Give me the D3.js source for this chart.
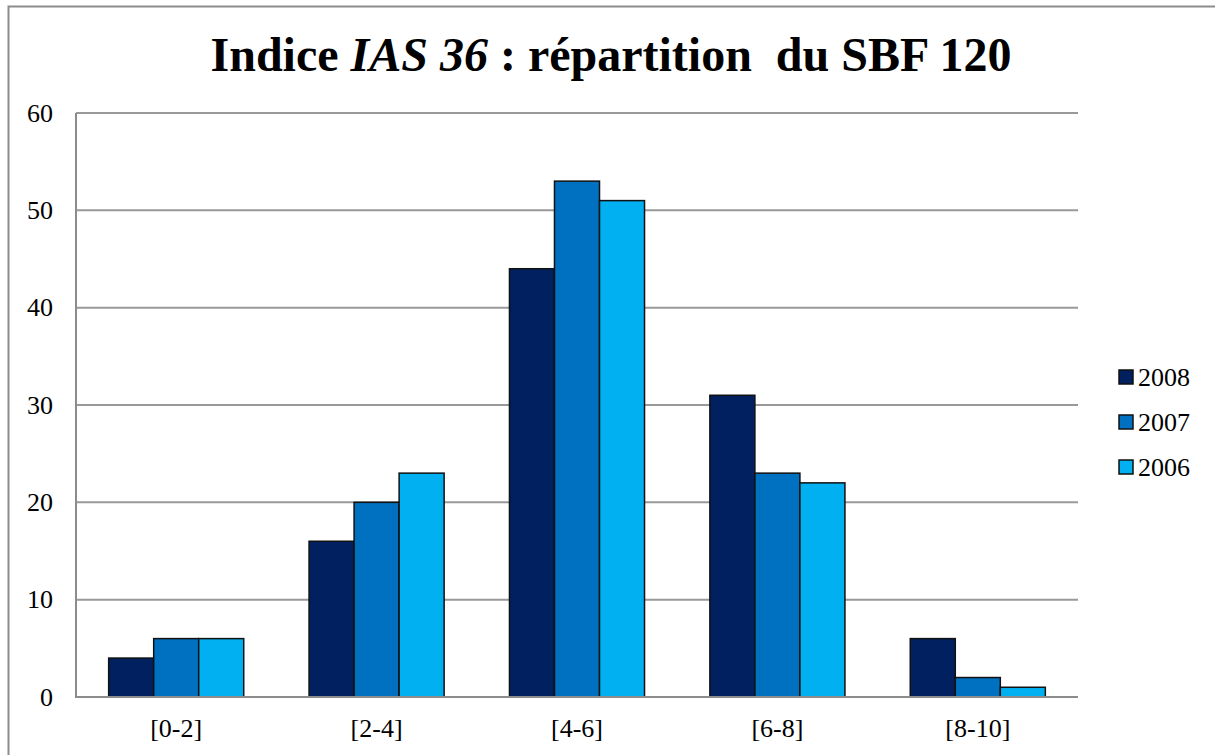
<html>
<head>
<meta charset="utf-8">
</head>
<body style="margin:0">
<div id="chart"></div>
<script src="https://d3js.org/d3.v7.min.js"></script>
<script>
// data
var categories = ["[0-2]", "[2-4]", "[4-6]", "[6-8]", "[8-10]"];
var seriesNames = ["2008", "2007", "2006"];
var values2008 = [4, 16, 44, 31, 6];
var values2007 = [6, 20, 53, 23, 2];
var values2006 = [6, 23, 51, 22, 1];
var yTicks = [0, 10, 20, 30, 40, 50, 60];
var colors = ["#002060", "#0070C0", "#00B0F0"];

var allValues = [values2008, values2007, values2006];

var width = 1215, height = 755;
var plotLeft = 76, plotRight = 1078, plotTop = 113, plotBottom = 697;
var serifFont = '"Liberation Serif"';

var svg = d3.select("#chart").append("svg")
	.attr("width", width)
	.attr("height", height)
	.style("font-family", serifFont);

// outer frame
svg.append("rect")
	.attr("x", 8.5).attr("y", 6.5)
	.attr("width", 1230).attr("height", 780)
	.attr("fill", "white")
	.attr("stroke", "#8c8c8c")
	.attr("stroke-width", 2);

// title
var title = svg.append("text")
	.attr("x", 611)
	.attr("y", 71)
	.attr("text-anchor", "middle")
	.style("font-family", serifFont)
	.style("font-weight", "bold")
	.style("font-size", "48px");
title.append("tspan").text("Indice ");
title.append("tspan").style("font-style", "italic").text("IAS 36");
title.append("tspan").text(" : répartition\u00a0 du SBF 120");

var x = d3.scaleBand()
	.domain(categories)
	.range([plotLeft, plotRight])
	.paddingInner(0.326)
	.paddingOuter(0.163);

var xSub = d3.scaleBand()
	.domain(seriesNames)
	.range([0, x.bandwidth()]);

var y = d3.scaleLinear()
	.domain([0, 60])
	.range([plotBottom, plotTop]);

// grid lines
svg.append("g").selectAll("line")
	.data(yTicks.filter(function(d) { return d > 0; }))
	.enter().append("line")
	.attr("x1", plotLeft).attr("x2", plotRight)
	.attr("y1", function(d) { return y(d); })
	.attr("y2", function(d) { return y(d); })
	.attr("stroke", "#999999")
	.attr("stroke-width", 2);

// y axis labels
var yG = svg.append("g")
	.attr("transform", "translate(" + plotLeft + ",0)")
	.call(d3.axisLeft(y).tickValues(yTicks).tickSize(0).tickPadding(23));
yG.attr("font-family", null).attr("font-size", null);
yG.select(".domain").remove();
yG.selectAll("text")
	.style("font-family", serifFont)
	.style("font-size", "26px")
	.attr("fill", "black");

// bars
var groups = svg.append("g").selectAll("g")
	.data(categories)
	.enter().append("g")
	.attr("transform", function(d) { return "translate(" + x(d) + ",0)"; });

groups.selectAll("rect")
	.data(function(d, i) {
		return seriesNames.map(function(s, j) { return { series: s, value: allValues[j][i], idx: j }; });
	})
	.enter().append("rect")
	.attr("x", function(d) { return xSub(d.series); })
	.attr("width", xSub.bandwidth())
	.attr("y", function(d) { return y(d.value); })
	.attr("height", function(d) { return y(0) - y(d.value); })
	.attr("fill", function(d) { return colors[d.idx]; })
	.attr("stroke", "#111")
	.attr("stroke-width", 1.5);

// axis lines
svg.append("line")
	.attr("x1", plotLeft).attr("x2", plotLeft)
	.attr("y1", plotTop).attr("y2", plotBottom)
	.attr("stroke", "#8c8c8c").attr("stroke-width", 2);
svg.append("line")
	.attr("x1", plotLeft - 1).attr("x2", plotRight)
	.attr("y1", plotBottom).attr("y2", plotBottom)
	.attr("stroke", "#8c8c8c").attr("stroke-width", 2);

// x axis labels
var xG = svg.append("g")
	.attr("transform", "translate(0," + plotBottom + ")")
	.call(d3.axisBottom(x).tickSize(0).tickPadding(22));
xG.attr("font-family", null).attr("font-size", null);
xG.select(".domain").remove();
xG.selectAll("text")
	.style("font-family", serifFont)
	.style("font-size", "26px")
	.attr("fill", "black");

// legend
var legend = svg.append("g").selectAll("g")
	.data(seriesNames)
	.enter().append("g")
	.attr("transform", function(d, i) { return "translate(1119," + (370 + i * 45) + ")"; });

legend.append("rect")
	.attr("width", 14).attr("height", 14)
	.attr("fill", function(d, i) { return colors[i]; })
	.attr("stroke", "#111")
	.attr("stroke-width", 1.5);

legend.append("text")
	.attr("x", 19)
	.attr("y", 15.5)
	.style("font-family", serifFont)
	.style("font-size", "26px")
	.text(function(d) { return d; });
</script>
</body>
</html>
